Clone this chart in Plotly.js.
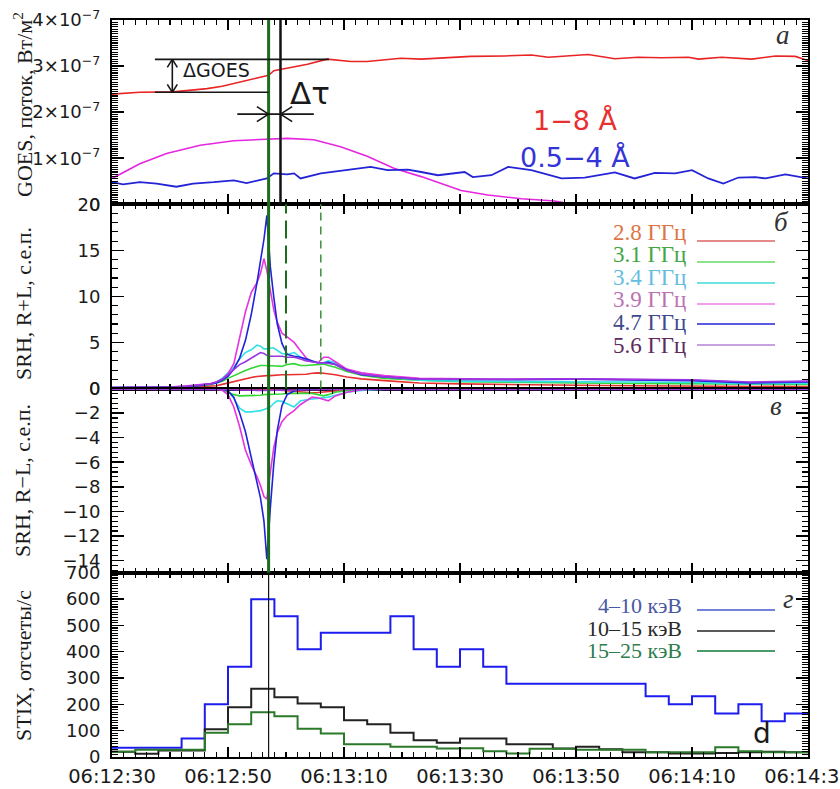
<!DOCTYPE html>
<html><head><meta charset="utf-8">
<script src="https://cdn.plot.ly/plotly-3.0.1.min.js"></script>
<style>html,body{margin:0;padding:0;background:#fff}#chart{width:840px;height:789px}</style>
</head><body><div id="chart"></div>
<script>
// ---------- tick labels ----------
const xTickVals = [0, 20, 40, 60, 80, 100, 120]; // seconds after 06:12:30
const xTickText = ['06:12:30', '06:12:50', '06:13:10', '06:13:30', '06:13:50', '06:14:10', '06:14:30'];
const goesTickVals = [0, 1e-7, 2e-7, 3e-7, 4e-7];
const goesTickText = ['0', '1×10<sup>−7</sup>', '2×10<sup>−7</sup>', '3×10<sup>−7</sup>', '4×10<sup>−7</sup>'];
const rplTickVals = [0, 5, 10, 15, 20];
const rmlTickVals = [0, -2, -4, -6, -8, -10, -12, -14];
const stixTickVals = [0, 100, 200, 300, 400, 500, 600, 700];

// ---------- panel a: GOES ----------
const goesLongT = [0, 4.8, 10.6, 16.4, 19, 22.1, 25, 27, 27.9, 30.8, 33.7, 37.1, 41.2, 44, 46.9, 49.8, 53.3, 56.7, 61.9, 67.7, 72.3, 75.2, 79.2, 82.1, 86.7, 90.7, 94.8, 99.4, 101.1, 105.1, 110.3, 114.4, 117.8, 120];
const goesLong = [2.39e-7, 2.43e-7, 2.44e-7, 2.51e-7, 2.56e-7, 2.66e-7, 2.74e-7, 2.80e-7, 2.90e-7, 2.97e-7, 3.04e-7, 3.15e-7, 3.10e-7, 3.10e-7, 3.14e-7, 3.17e-7, 3.15e-7, 3.17e-7, 3.21e-7, 3.22e-7, 3.24e-7, 3.19e-7, 3.23e-7, 3.25e-7, 3.16e-7, 3.19e-7, 3.18e-7, 3.19e-7, 3.15e-7, 3.19e-7, 3.15e-7, 3.22e-7, 3.21e-7, 3.12e-7];
const goesShortT = [0, 1.9, 4.8, 7.7, 11.1, 14.0, 17.5, 21.0, 23.2, 25.5, 26.7, 27.9, 30.2, 31.4, 32.5, 36.0, 40.6, 44.6, 47.5, 51.0, 53.3, 56.2, 60.8, 62.2, 65.4, 68.3, 72.3, 77.5, 81.5, 86.7, 90.1, 93.6, 97.1, 100, 102.8, 105.4, 108, 110.9, 112.7, 116.1, 120];
const goesShort = [0.48e-7, 0.43e-7, 0.48e-7, 0.45e-7, 0.38e-7, 0.45e-7, 0.48e-7, 0.52e-7, 0.46e-7, 0.52e-7, 0.56e-7, 0.67e-7, 0.65e-7, 0.67e-7, 0.56e-7, 0.67e-7, 0.74e-7, 0.81e-7, 0.74e-7, 0.75e-7, 0.70e-7, 0.63e-7, 0.70e-7, 0.59e-7, 0.63e-7, 0.81e-7, 0.74e-7, 0.56e-7, 0.58e-7, 0.69e-7, 0.56e-7, 0.68e-7, 0.67e-7, 0.74e-7, 0.56e-7, 0.45e-7, 0.58e-7, 0.59e-7, 0.56e-7, 0.65e-7, 0.56e-7];
const goesDerivT = [0, 4.8, 9.4, 15.2, 21, 25.6, 30.2, 34.8, 39.4, 44, 48.6, 53.3, 56.7, 60.2, 64.8, 70.6, 76.3, 79.7, 84];
const goesDeriv = [0.56e-7, 0.88e-7, 1.10e-7, 1.28e-7, 1.38e-7, 1.41e-7, 1.43e-7, 1.40e-7, 1.25e-7, 1.04e-7, 0.78e-7, 0.60e-7, 0.45e-7, 0.30e-7, 0.20e-7, 0.12e-7, 0.07e-7, 0.0, -0.1e-7];

// ---------- panels б, в: SRH ----------
const srhT = [0, 5, 10, 13, 15, 17, 18, 19, 20, 21, 22, 23, 24, 25, 25.6, 26.2, 26.7, 27.3, 27.9, 28.5, 29.3, 30.2, 31.4, 32.5, 33.5, 34.5, 35.5, 36.5, 37.3, 38.5, 40.5, 43, 47, 53, 60, 70, 80, 90, 100, 110, 120];
const srhFreqs = ['2.8 ГГц', '3.1 ГГц', '3.4 ГГц', '3.9 ГГц', '4.7 ГГц', '5.6 ГГц'];
const rpl28 = [0.05,0.05,0.08,0.15,0.2,0.25,0.3,0.45,0.6,0.8, 0.95,1.1,1.2,1.3,1.35,1.4,1.4,1.4,1.45,1.45, 1.5,1.5,1.5,1.5,1.55,1.65,1.7,1.65,1.6,1.5, 1.25,1.05,0.85,0.6,0.5,0.4,0.35,0.3,0.25,0.2, 0.2];
const rpl31 = [0.05,0.05,0.1,0.2,0.3,0.45,0.6,0.8,1.1,1.4, 1.7,1.95,2.2,2.4,2.5,2.5,2.5,2.5,2.5,2.45, 2.4,2.6,2.7,2.5,2.5,2.55,2.65,2.65,2.5,2.3, 1.85,1.45,1.1,0.9,0.75,0.65,0.6,0.55,0.5,0.45, 0.45];
const rpl34 = [0.1,0.1,0.15,0.25,0.35,0.5,0.7,1.1,1.7,2.3, 3.2,3.9,4.2,4.7,4.6,4.3,4.3,4.4,4.4,4.1, 3.8,3.7,3.9,3.4,3.1,2.9,2.8,2.8,3.0,2.8, 2.0,1.7,1.3,0.9,0.8,0.75,0.75,0.7,0.65,0.5, 0.55];
const rpl39 = [0.1,0.1,0.15,0.3,0.4,0.55,0.7,1.0,1.6,2.7, 5.5,8.3,10.4,11.5,12.5,14.1,12.8,10.5,8.5,7.2, 6.0,5.6,5.0,4.1,3.3,2.9,2.8,3.4,3.4,2.9, 2.1,1.7,1.4,1.1,1.05,1.0,1.05,0.95,0.9,0.65, 0.75];
const rpl47 = [0.1,0.1,0.15,0.2,0.3,0.5,0.6,0.9,1.3,2.1, 3.3,5.2,8.0,11.5,13.9,16.2,18.8,13.2,9.9,7.0, 4.9,3.7,3.5,3.4,3.2,3.0,2.8,2.8,2.85,2.6, 2.0,1.5,1.25,1.0,0.95,0.95,1.0,0.9,0.85,0.6, 0.7];
const rpl56 = [0.1,0.1,0.15,0.25,0.35,0.5,0.7,1.0,1.5,2.1, 2.6,2.9,3.3,3.7,3.9,3.8,3.6,3.5,3.5,3.5, 3.5,3.4,3.4,3.2,3.0,2.9,2.8,2.8,2.75,2.6, 1.95,1.55,1.25,1.0,1.0,1.05,1.05,1.0,0.95,0.7, 0.8];
const rml28 = [0,0,0,0,0,0,0,0,-0.02,-0.03, -0.05,-0.05,-0.05,-0.05,-0.05,-0.05,-0.05,-0.08,-0.1,-0.12, -0.15,-0.2,-0.25,-0.3,-0.32,-0.35,-0.33,-0.3,-0.25,-0.2, -0.1,-0.05,-0.02,0,0,0,0,0,0,0, 0];
const rml31 = [0,0,0,0,0,-0.02,-0.05,-0.1,-0.3,-0.5, -0.6,-0.6,-0.6,-0.55,-0.55,-0.5,-0.5,-0.5,-0.5,-0.45, -0.45,-0.4,-0.4,-0.4,-0.4,-0.4,-0.5,-0.6,-0.5,-0.3, -0.15,-0.05,-0.02,0,0,0,0,0,0,0, 0];
const rml34 = [0,0,0,0,0,0,0,-0.05,-0.2,-0.8, -1.6,-1.9,-1.9,-1.85,-1.8,-1.7,-1.6,-1.5,-1.2,-1.0, -1.05,-1.25,-1.5,-1.0,-0.9,-0.85,-0.8,-0.75,-0.7,-0.55, -0.3,-0.15,-0.05,-0.02,-0.02,-0.02,-0.02,-0.02,-0.02,-0.02, -0.02];
const rml39 = [0,0,0,0,0,0,-0.05,-0.15,-0.5,-1.5, -3.1,-5.0,-6.2,-7.2,-7.9,-8.8,-9.0,-6.8,-4.8,-3.6, -2.7,-2.2,-1.8,-1.3,-1.0,-0.7,-0.75,-0.9,-1.0,-0.6, -0.3,-0.1,0,0,0,0,0,0,0,0, 0];
const rml47 = [0,0,0,0,0,0,0,-0.05,-0.2,-0.7, -2.0,-3.5,-5.6,-7.7,-8.9,-10.8,-13.9,-9.7,-6.1,-3.4, -1.4,-0.5,-0.2,-0.1,-0.05,0,0,0,0,0, 0,0,0,0,0,0,0,0,0,0, 0];
const rml56 = [-0.05,-0.05,-0.05,-0.05,-0.05,-0.05,-0.05,-0.05,-0.08,-0.1, -0.12,-0.15,-0.15,-0.15,-0.15,-0.15,-0.15,-0.15,-0.15,-0.15, -0.15,-0.15,-0.15,-0.12,-0.1,-0.1,-0.1,-0.08,-0.08,-0.05, -0.05,-0.05,-0.05,-0.05,-0.05,-0.05,-0.05,-0.05,-0.05,-0.05, -0.05];

// ---------- panel г: STIX (4 s bins starting at these times) ----------
const stixT = [0,4,8,12,16,20,24,28,32,36,40,44,48,52,56,60,64,68,72,76,80,84,88,92,96,100,104,108,112,116];
const stixEnd = 120;
const stixBands = ['4–10 кэВ', '10–15 кэВ', '15–25 кэВ'];
const stix4_10 = [35,35,35,70,200,343,599,535,409,472,472,472,535,409,343,409,343,278,278,278,278,278,278,231,200,231,165,200,136,165];
const stix10_15 = [20,12,25,25,105,189,259,227,203,189,140,124,92,64,54,70,70,48,48,32,39,29,18,18,13,13,15,18,20,18];
const stix15_25 = [20,28,28,28,92,124,170,155,107,89,48,48,39,39,32,33,22,13,31,31,28,28,28,18,18,18,37,22,18,18];

// ---------- geometry helpers (pixel → paper) ----------
const W = 840, H = 789, ML = 112, MR = 32, MT = 20, MB = 32;
const PW = W - ML - MR, PH = H - MT - MB;
const px = x => (x - ML) / PW;
const py = y => (H - MB - y) / PH;

const stepX = stixT.concat([stixEnd]);
const stepY = arr => arr.concat([arr[arr.length - 1]]);

const traces = [];
// GOES
traces.push({x: goesDerivT, y: goesDeriv, xaxis: 'x', yaxis: 'y', mode: 'lines', line: {color: '#e626e0', width: 1.6}});
traces.push({x: goesShortT, y: goesShort, xaxis: 'x', yaxis: 'y', mode: 'lines', line: {color: '#2424d6', width: 1.8}});
traces.push({x: goesLongT, y: goesLong, xaxis: 'x', yaxis: 'y', mode: 'lines', line: {color: '#e82424', width: 1.6}});
// SRH
const srhColors = ['#e83030', '#33d633', '#2fe0e6', '#e634e0', '#2222dc', '#9b36e0'];
const rplSeries = [rpl28, rpl31, rpl34, rpl39, rpl47, rpl56];
const rmlSeries = [rml28, rml31, rml34, rml39, rml47, rml56];
rplSeries.forEach((s, i) => traces.push({x: srhT, y: s, xaxis: 'x2', yaxis: 'y2', mode: 'lines', name: srhFreqs[i], line: {color: srhColors[i], width: 1.6}}));
rmlSeries.forEach((s, i) => traces.push({x: srhT, y: s, xaxis: 'x3', yaxis: 'y3', mode: 'lines', name: srhFreqs[i], line: {color: srhColors[i], width: 1.6}}));
// STIX
const stixColors = ['#1c1cf0', '#222222', '#2a7a2a'];
[stix4_10, stix10_15, stix15_25].forEach((s, i) => traces.push({x: stepX, y: stepY(s), xaxis: 'x4', yaxis: 'y4', mode: 'lines', name: stixBands[i], line: {color: stixColors[i], width: 2, shape: 'hv'}}));

const yTickFont = {family: 'DejaVu Sans', size: 18, color: '#1a1a1a'};
const xTickFont = {family: 'DejaVu Sans', size: 19.5, color: '#1a1a1a'};
function xAx(anchor, labels) {
  return {anchor: anchor, domain: [0, 1], range: [0, 120], tickmode: 'array', tickvals: xTickVals, ticktext: xTickText,
    showticklabels: labels, ticks: 'inside', ticklen: 10, tickwidth: 1.5, tickcolor: '#000',
    showline: true, linewidth: 2, linecolor: '#000', mirror: 'allticks', showgrid: false, zeroline: false,
    minor: {dtick: 2, tick0: 0, ticks: 'inside', ticklen: 5, tickwidth: 1.2, tickcolor: '#000', showgrid: false},
    tickfont: xTickFont, ticklabelstandoff: 1, ticklabeloverflow: 'allow'};
}
function yAx(anchor, dom, range, vals, text, mdt) {
  const a = {anchor: anchor, domain: dom, range: range, tickmode: 'array', tickvals: vals,
    ticks: 'inside', ticklen: 12, tickwidth: 1.5, tickcolor: '#000',
    showline: true, linewidth: 2, linecolor: '#000', mirror: 'allticks', showgrid: false, zeroline: false,
    minor: {dtick: mdt, tick0: 0, ticks: 'inside', ticklen: 6, tickwidth: 1.1, tickcolor: '#000', showgrid: false},
    tickfont: yTickFont, ticklabelstandoff: 6, ticklabeloverflow: 'allow'};
  a.ticktext = text || vals.map(v => String(v).replace('-', '−'));
  return a;
}

const layout = {
  width: W, height: H, margin: {l: ML, r: MR, t: MT, b: MB},
  paper_bgcolor: '#fff', plot_bgcolor: '#fff', showlegend: false,
  xaxis: xAx('y', false), xaxis2: xAx('y2', false), xaxis3: xAx('y3', false), xaxis4: xAx('y4', true),
  yaxis: yAx('x', [0.75, 1], [0, 4e-7], goesTickVals, goesTickText, 5e-9),
  yaxis2: yAx('x2', [0.5, 0.75], [0, 20], rplTickVals, null, 1),
  yaxis3: yAx('x3', [0.25, 0.5], [-15, 0], rmlTickVals, null, 0.4),
  yaxis4: yAx('x4', [0, 0.25], [0, 700], stixTickVals, null, 10),
  shapes: [], annotations: []
};

// marker lines
const S = layout.shapes;
S.push({type: 'line', xref: 'x', yref: 'paper', x0: 27, x1: 27, y0: 0.25, y1: 1, line: {color: '#1b6e1b', width: 3}});
S.push({type: 'line', xref: 'x', yref: 'paper', x0: 29.05, x1: 29.05, y0: 0.75, y1: 1, line: {color: '#111', width: 2.5}});
S.push({type: 'line', xref: 'x', yref: 'paper', x0: 30, x1: 30, y0: 0.5, y1: 0.75, line: {color: '#1b6e1b', width: 2, dash: '18px,7px'}});
S.push({type: 'line', xref: 'x', yref: 'paper', x0: 36, x1: 36, y0: 0.5, y1: 0.75, line: {color: '#3d8f3d', width: 1.5, dash: '8px,6px'}});
S.push({type: 'line', xref: 'x', yref: 'paper', x0: 27, x1: 27, y0: 0, y1: 0.25, line: {color: '#111', width: 1.2}});

// ΔGOES / Δτ construction (panel a data coordinates)
const sPx = 120 / PW, vPx = 4e-7 / 184;
const seg = (x0, y0, x1, y1) => ({type: 'line', xref: 'x', yref: 'y', x0: x0, y0: y0, x1: x1, y1: y1, line: {color: '#161616', width: 1.6}});
const gTop = 3.146e-7, gBot = 2.43e-7, gx = 10.4;
S.push(seg(7.4, gTop, 37.4, gTop));
S.push(seg(7.4, gBot, 27.0, gBot));
S.push(seg(gx, gBot, gx, gTop));
S.push(seg(gx - 5 * sPx, gTop - 8 * vPx, gx, gTop), seg(gx + 5 * sPx, gTop - 8 * vPx, gx, gTop));
S.push(seg(gx - 5 * sPx, gBot + 8 * vPx, gx, gBot), seg(gx + 5 * sPx, gBot + 8 * vPx, gx, gBot));
const tY = 1.957e-7;
S.push(seg(21.6, tY, 34.8, tY));
S.push(seg(27 - 11.7 * sPx, tY + 7.5 * vPx, 27, tY), seg(27 - 11.7 * sPx, tY - 7.5 * vPx, 27, tY));
S.push(seg(29.05 + 11.7 * sPx, tY + 7.5 * vPx, 29.05, tY), seg(29.05 + 11.7 * sPx, tY - 7.5 * vPx, 29.05, tY));

const A = layout.annotations;
A.push({xref: 'x', yref: 'y', x: 11.9, y: 2.91e-7, xanchor: 'left', yanchor: 'middle', text: 'ΔGOES', showarrow: false, font: {family: 'DejaVu Sans', size: 19, color: '#1a1a1a'}});
A.push({xref: 'x', yref: 'y', x: 30.4, y: 2.41e-7, xanchor: 'left', yanchor: 'middle', text: 'Δτ', showarrow: false, font: {family: 'DejaVu Sans', size: 31, color: '#1a1a1a'}});
A.push({xref: 'x4', yref: 'y4', x: 112.1, y: 91, xanchor: 'center', yanchor: 'middle', text: 'd', showarrow: false, font: {family: 'DejaVu Sans', size: 28, color: '#1a1a1a'}});

// GOES legend
A.push({xref: 'paper', yref: 'paper', x: px(620), y: py(103), text: '1−8 Å', showarrow: false, font: {family: 'DejaVu Sans', size: 27, color: '#e83030'}});
A.push({xref: 'paper', yref: 'paper', x: px(632), y: py(140), text: '0.5−4 Å', showarrow: false, font: {family: 'DejaVu Sans', size: 27, color: '#3434d8'}});

// SRH legend
const srhTextColors = ['#dd7444', '#44a544', '#66bde0', '#bb72b2', '#3f4a8c', '#5e2a5e'];
const srhLineColors = ['#e48a8a', '#8ee28e', '#6fe2e2', '#f0a0ee', '#5a5ae0', '#c7a2e2'];
const srhTextY = [232, 254, 277, 299, 322, 345];
const srhLineY = [241, 262, 283, 304, 324, 345];
srhFreqs.forEach((f, i) => {
  A.push({xref: 'paper', yref: 'paper', x: px(688), y: py(srhTextY[i]), xanchor: 'right', yanchor: 'middle', text: f, showarrow: false, font: {family: 'Liberation Serif', size: 23, color: srhTextColors[i]}});
  S.push({type: 'line', xref: 'paper', yref: 'paper', x0: px(697), x1: px(775), y0: py(srhLineY[i]), y1: py(srhLineY[i]), line: {color: srhLineColors[i], width: 1.8}});
});
// STIX legend
const stixTextColors = ['#4858a2', '#2a2a2a', '#2c7c4c'];
const stixLineColors = ['#7282d8', '#5a5a5a', '#4c9a6a'];
const stixTextY = [605, 628, 650], stixLineY = [610, 631, 651];
stixBands.forEach((b, i) => {
  A.push({xref: 'paper', yref: 'paper', x: px(684), y: py(stixTextY[i]), xanchor: 'right', yanchor: 'middle', text: b, showarrow: false, font: {family: 'Liberation Serif', size: 22, color: stixTextColors[i]}});
  S.push({type: 'line', xref: 'paper', yref: 'paper', x0: px(697), x1: px(775), y0: py(stixLineY[i]), y1: py(stixLineY[i]), line: {color: stixLineColors[i], width: 1.8}});
});

// panel letters
[['a', 783, 35], ['б', 781, 222], ['в', 776, 406], ['г', 788, 599]].forEach(p => {
  A.push({xref: 'paper', yref: 'paper', x: px(p[1]), y: py(p[2]), xanchor: 'center', yanchor: 'middle', text: p[0], showarrow: false, font: {family: 'Liberation Serif', size: 27, color: '#333', style: 'italic'}});
});

// y axis titles
[['GOES, поток, Вт/м<sup>2</sup>', 105], ['SRH, R+L, с.е.п.', 304], ['SRH, R−L, с.е.п.', 481], ['STIX, отсчеты/с', 666]].forEach(t => {
  A.push({xref: 'paper', yref: 'paper', x: px(23), y: py(t[1]), xanchor: 'center', yanchor: 'middle', textangle: -90, text: t[0], showarrow: false, font: {family: 'Liberation Serif', size: 22, color: '#1a1a1a'}});
});

Plotly.newPlot('chart', traces, layout, {staticPlot: true});
</script>
</body></html>
